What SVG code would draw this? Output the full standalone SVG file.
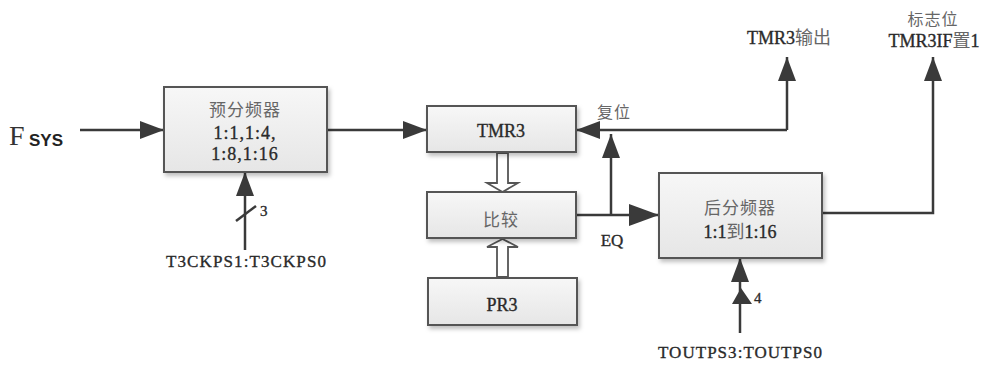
<svg xmlns="http://www.w3.org/2000/svg" width="982" height="369" viewBox="0 0 982 369">
  <style>
    .box { fill: url(#boxFill); stroke: #555; stroke-width: 2; filter: url(#shadow); }
    .wire { fill: none; stroke: #3a3a3a; stroke-width: 2.5; }
    .hollow { fill: #fff; stroke: #555; stroke-width: 1.8; }
    .lat { font-family: "Liberation Serif", "Times New Roman", serif; fill: #2a2a2a; stroke: #2a2a2a; stroke-width: 0.35; }
    .cjk { font-family: "Liberation Serif", "Noto Sans CJK SC", sans-serif; fill: #666; }
  </style>
  <defs>
    <linearGradient id="boxFill" x1="0" y1="0" x2="0" y2="1">
      <stop offset="0" stop-color="#f7f7f7"/>
      <stop offset="1" stop-color="#e6e6e6"/>
    </linearGradient>
    <filter id="shadow" x="-10%" y="-10%" width="125%" height="135%">
      <feDropShadow dx="2" dy="3" stdDeviation="2" flood-color="#000" flood-opacity="0.25"/>
    </filter>
    <marker id="head" markerUnits="userSpaceOnUse" markerWidth="26" markerHeight="20" refX="24" refY="9" orient="auto">
      <path d="M0,0 L24,9 L0,18 Z" fill="#3a3a3a"/>
    </marker>
    <marker id="bigHead" markerUnits="userSpaceOnUse" markerWidth="32" markerHeight="24" refX="30" refY="11" orient="auto">
      <path d="M0,0 L30,11 L0,22 Z" fill="#3a3a3a"/>
    </marker>
  </defs>

  <!-- input clock label -->
  <g id="fsys">
    <text x="9" y="145" font-family="Liberation Serif, serif" font-size="28" fill="#333">F</text>
    <text x="29" y="146" font-family="Liberation Sans, Arial, sans-serif" font-size="17" font-weight="bold" fill="#222">SYS</text>
  </g>

  <!-- connectors -->
  <g id="connectors">
    <line class="wire" x1="80" y1="130" x2="164" y2="130" marker-end="url(#head)"/>
    <line class="wire" x1="327" y1="130" x2="427" y2="130" marker-end="url(#head)"/>
    <line class="wire" x1="245" y1="250" x2="245" y2="172" marker-end="url(#head)"/>
    <line x1="236" y1="221" x2="256" y2="206" stroke="#3a3a3a" stroke-width="2.5"/>
    <!-- EQ to postscaler, with branch back to reset -->
    <line class="wire" x1="576" y1="215" x2="659" y2="215" marker-end="url(#bigHead)"/>
    <line class="wire" x1="611" y1="215" x2="611" y2="134" marker-end="url(#head)"/>
    <!-- reset line / TMR3 output -->
    <polyline class="wire" points="787,130 576,130" marker-end="url(#head)"/>
    <line class="wire" x1="787" y1="130" x2="787" y2="57" marker-end="url(#head)"/>
    <!-- interrupt flag output -->
    <polyline class="wire" points="822,213 933,213 933,57" marker-end="url(#head)"/>
    <!-- postscaler select bus -->
    <line class="wire" x1="740" y1="333" x2="740" y2="258" marker-end="url(#head)"/>
    <polygon points="732,304 741,288 752,304" fill="#3a3a3a"/>
    <!-- hollow data arrows -->
    <polygon class="hollow" points="497,153 508,153 508,183 518,183 502.5,192 487,183 497,183"/>
    <polygon class="hollow" points="497,277 508,277 508,247 518,247 502.5,239 487,247 497,247"/>
  </g>

  <!-- prescaler -->
  <g id="prescaler">
    <rect class="box" x="164" y="87" width="163" height="85"/>
    <text class="cjk" x="245" y="116" font-size="17" text-anchor="middle" letter-spacing="1">预分频器</text>
    <text class="lat" x="245" y="139" font-size="18" text-anchor="middle" letter-spacing="1">1:1,1:4,</text>
    <text class="lat" x="245" y="160" font-size="18" text-anchor="middle" letter-spacing="1">1:8,1:16</text>
  </g>
  <g id="prescaler-sel">
    <text class="lat" x="260" y="216" font-size="15">3</text>
    <text class="lat" x="246" y="267" font-size="17" text-anchor="middle" textLength="160" lengthAdjust="spacing">T3CKPS1:T3CKPS0</text>
  </g>

  <!-- timer register -->
  <g id="tmr3">
    <rect class="box" x="427" y="106" width="149" height="46"/>
    <text class="lat" x="501" y="137" font-size="18" text-anchor="middle">TMR3</text>
  </g>

  <!-- comparator -->
  <g id="compare">
    <rect class="box" x="427" y="192" width="149" height="46"/>
    <text class="cjk" x="501" y="226" font-size="17" text-anchor="middle" letter-spacing="1">比较</text>
  </g>

  <!-- period register -->
  <g id="pr3">
    <rect class="box" x="428" y="278" width="149" height="47"/>
    <text class="lat" x="502" y="311" font-size="18" text-anchor="middle">PR3</text>
  </g>

  <g id="labels">
    <text class="cjk" x="614" y="118" font-size="16" text-anchor="middle" letter-spacing="1">复位</text>
    <text class="lat" x="612" y="246" font-size="17" text-anchor="middle">EQ</text>
    <text x="789" y="44" font-size="18" text-anchor="middle"><tspan class="lat">TMR3</tspan><tspan class="cjk">输出</tspan></text>
    <text class="cjk" x="933" y="25" font-size="16" text-anchor="middle" letter-spacing="1">标志位</text>
    <text x="934" y="47" font-size="18" text-anchor="middle"><tspan class="lat">TMR3IF</tspan><tspan class="cjk">置</tspan><tspan class="lat">1</tspan></text>
  </g>

  <!-- postscaler -->
  <g id="postscaler">
    <rect class="box" x="659" y="173" width="163" height="85"/>
    <text class="cjk" x="740" y="214" font-size="17" text-anchor="middle" letter-spacing="1">后分频器</text>
    <text x="740" y="238" font-size="18" text-anchor="middle"><tspan class="lat">1:1</tspan><tspan class="cjk">到</tspan><tspan class="lat">1:16</tspan></text>
  </g>
  <g id="postscaler-sel">
    <text class="lat" x="754" y="303" font-size="15">4</text>
    <text class="lat" x="740" y="358" font-size="17" text-anchor="middle" textLength="164" lengthAdjust="spacing">TOUTPS3:TOUTPS0</text>
  </g>
</svg>
